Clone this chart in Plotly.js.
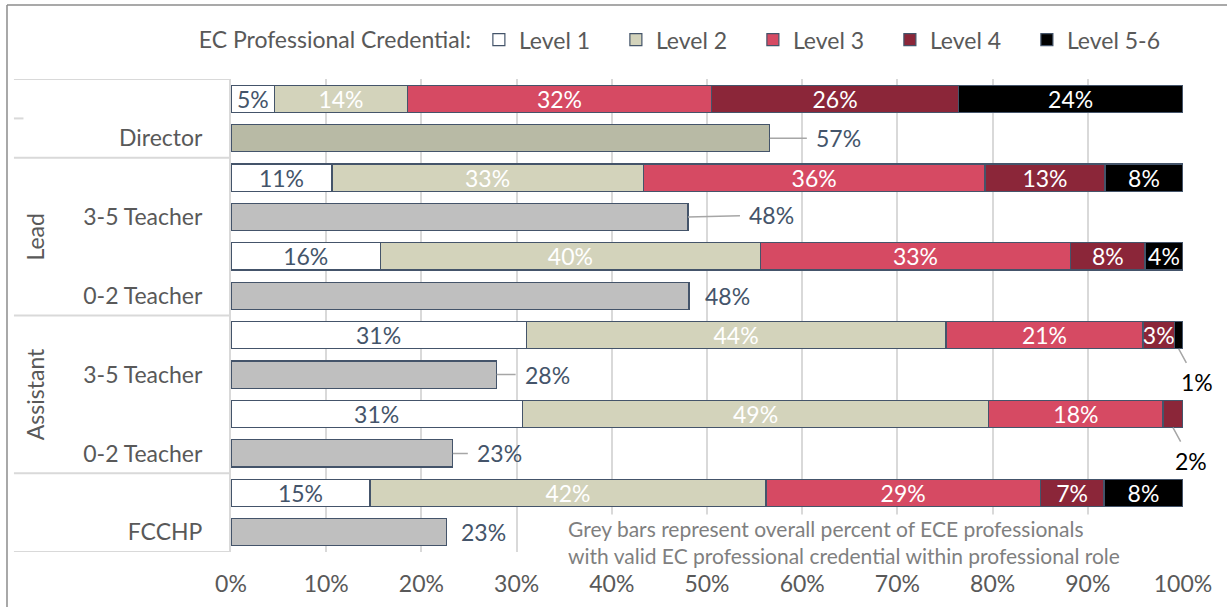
<!DOCTYPE html>
<html>
<head>
<meta charset="utf-8">
<script src="https://cdn.plot.ly/plotly-3.0.1.min.js"></script>
<style>
html,body{margin:0;padding:0;background:#fff;}
#chart{width:1227px;height:607px;}
</style>
</head>
<body>
<div id="chart"></div>
<script>
// ---- data ----
const roles = ['Director', '3-5 Teacher', '0-2 Teacher', '3-5 Teacher', '0-2 Teacher', 'FCCHP'];
const roleGroups = ['Lead', 'Assistant'];
const levels = ['Level 1', 'Level 2', 'Level 3', 'Level 4', 'Level 5-6'];
const level1 = [4.6, 10.6, 15.7, 31.0, 30.6, 14.6];
const level2 = [13.9, 32.7, 39.9, 44.1, 49.0, 41.6];
const level3 = [32.0, 35.9, 32.6, 20.7, 18.3, 28.8];
const level4 = [25.9, 12.6, 7.8, 3.3, 2.1, 6.7];
const level56 = [23.6, 8.2, 4.0, 0.9, 0.0, 8.3];
const overall = [56.6, 48.0, 48.1, 27.9, 23.3, 22.6];
const xTicks = [0, 10, 20, 30, 40, 50, 60, 70, 80, 90, 100];
const noteText = 'Grey bars represent overall percent of ECE professionals<br>with valid EC professional credential within professional role';

// ---- styles ----
const FONT = 'Lato, "DejaVu Sans", sans-serif';
const FS = 23;
const levelColors = ['#ffffff', '#d3d3bb', '#d64a63', '#8b2639', '#000000'];
const levelTextColors = ['#44546a', '#ffffff', '#ffffff', '#ffffff', '#ffffff'];
const greyColors = ['#b8baa5', '#bfbfbf', '#bfbfbf', '#bfbfbf', '#bfbfbf', '#bfbfbf'];
const outline = '#44546a';
const greyLabelStyle = [
  {ax: 69, ay: 0, line: true},
  {ax: 84, ay: -2, line: true},
  {ax: 39, ay: 0, line: false},
  {ax: 51, ay: 0, line: true},
  {ax: 47, ay: 0, line: true},
  {ax: 37, ay: 0, line: false}
];
const smallLabelOffsets = {ax: 18, ay: 33};

const series = [level1, level2, level3, level4, level56];
const stackY = roles.map((_, i) => 2 * i);
const greyY = roles.map((_, i) => 2 * i + 1);
const BARW = 0.69;

const traces = series.map((vals, k) => ({
  type: 'bar',
  orientation: 'h',
  name: levels[k],
  x: vals,
  y: stackY,
  width: BARW,
  marker: {color: levelColors[k], line: {color: outline, width: 1.2}},
  text: vals.map(v => v >= 2.5 ? Math.round(v) + '%' : ''),
  textposition: 'inside',
  insidetextanchor: 'middle',
  textangle: 0,
  constraintext: 'none',
  textfont: {family: FONT, size: FS, color: levelTextColors[k]},
  hoverinfo: 'x+name'
}));

traces.push({
  type: 'bar',
  orientation: 'h',
  name: 'Overall',
  showlegend: false,
  x: overall,
  y: greyY,
  width: BARW,
  marker: {color: greyColors, line: {color: outline, width: 1.2}},
  hoverinfo: 'x'
});

const annotations = [];
// grey bar labels
overall.forEach((v, i) => {
  const s = greyLabelStyle[i];
  const txt = Math.round(v) + '%';
  if (s.line) {
    annotations.push({x: v, y: greyY[i], xref: 'x', yref: 'y', text: txt,
      showarrow: true, arrowhead: 0, arrowwidth: 1.5, arrowcolor: '#a6a6a6',
      ax: s.ax, ay: s.ay, standoff: 0, startstandoff: 8,
      font: {family: FONT, size: FS, color: '#44546a'}});
  } else {
    annotations.push({x: v, y: greyY[i], xref: 'x', yref: 'y', text: txt,
      showarrow: false, xanchor: 'center', xshift: s.ax,
      font: {family: FONT, size: FS, color: '#44546a'}});
  }
});
// small segment labels outside
roles.forEach((_, i) => {
  let cum = 0;
  series.forEach((vals) => {
    const v = vals[i];
    if (v > 0 && v < 2.5) {
      annotations.push({x: cum + v / 2, y: stackY[i] + BARW / 2, xref: 'x', yref: 'y',
        text: Math.round(v) + '%', showarrow: true, arrowhead: 0, arrowwidth: 1.5,
        arrowcolor: '#a6a6a6', ax: smallLabelOffsets.ax, ay: smallLabelOffsets.ay,
        standoff: 0, startstandoff: 4, font: {family: FONT, size: FS, color: '#000000'}});
    }
    cum += v;
  });
});
// group labels
const groupCenters = [3.5, 7.5];
roleGroups.forEach((g, j) => {
  annotations.push({x: -0.206, xref: 'paper', xanchor: 'center', y: groupCenters[j], yref: 'y', yanchor: 'middle', text: g,
    textangle: -90, showarrow: false, font: {family: FONT, size: FS, color: '#595959'}});
});
// note
annotations.push({x: 0.352, xref: 'paper', y: 0.080, yref: 'paper', xanchor: 'left', yanchor: 'top',
  text: noteText, align: 'left', showarrow: false, bgcolor: '#ffffff', width: 640,
  font: {family: FONT, size: 21, color: '#7f7f7f'}});

const leftX = -0.228;
const lineC = '#d9d9d9';
const shapes = [];
[-0.5, 1.5, 5.5, 9.5, 11.5].forEach(yv => {
  shapes.push({type: 'line', xref: 'paper', yref: 'y', x0: leftX, x1: 0, y0: yv, y1: yv,
    line: {color: lineC, width: 2}});
});
shapes.push({type: 'line', xref: 'paper', yref: 'y', x0: leftX, x1: leftX + 0.01, y0: 0.5, y1: 0.5,
  line: {color: lineC, width: 2}});
// outer frame
shapes.push({type: 'line', xref: 'paper', yref: 'paper', x0: -0.2353, x1: 1.05, y0: 1.1564, y1: 1.1564,
  line: {color: '#8c8c8c', width: 1.5}});
shapes.push({type: 'line', xref: 'paper', yref: 'paper', x0: -0.2353, x1: -0.2353, y0: 1.1564, y1: -0.2,
  line: {color: '#8c8c8c', width: 1.5}});

const layout = {
  width: 1227, height: 607,
  margin: {l: 231, r: 44, t: 79, b: 55, autoexpand: false},
  paper_bgcolor: '#ffffff', plot_bgcolor: '#ffffff',
  barmode: 'stack',
  font: {family: FONT, size: FS, color: '#595959'},
  xaxis: {range: [0, 100], tickvals: xTicks, ticktext: xTicks.map(t => t + '%'),
    showgrid: true, gridcolor: '#d9d9d9', gridwidth: 2, zeroline: false, showline: false,
    ticks: '', ticklabelstandoff: 16, tickfont: {family: FONT, size: FS, color: '#595959'}, fixedrange: true},
  yaxis: {range: [11.5, -0.5], tickvals: greyY, ticktext: roles, showgrid: false, zeroline: false,
    showline: true, linecolor: '#d9d9d9', linewidth: 2, ticks: '', ticklabelstandoff: 22,
    tickfont: {family: FONT, size: FS, color: '#595959'}, fixedrange: true},
  legend: {orientation: 'h', x: -0.036, xanchor: 'left', y: 1.083, yanchor: 'middle',
    title: {text: 'EC Professional Credential:', side: 'left', font: {family: FONT, size: FS, color: '#595959'}},
    font: {family: FONT, size: FS, color: '#595959'}, traceorder: 'normal',
    entrywidth: 92, itemwidth: 30, bgcolor: 'rgba(0,0,0,0)'},
  showlegend: true,
  annotations: annotations,
  shapes: shapes
};

Plotly.newPlot('chart', traces, layout, {displayModeBar: false, staticPlot: true});
</script>
</body>
</html>
